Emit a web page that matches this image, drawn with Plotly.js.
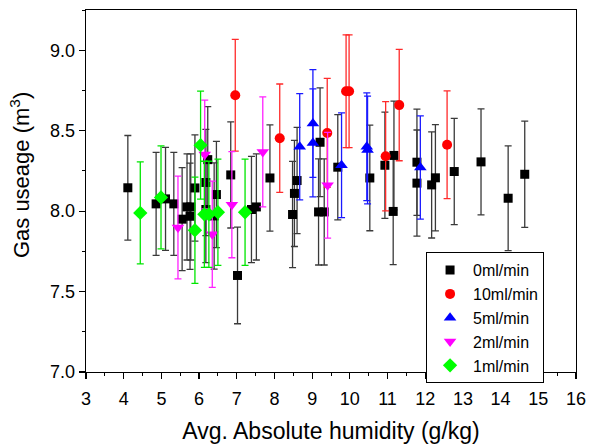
<!DOCTYPE html>
<html>
<head>
<meta charset="utf-8">
<script src="https://cdn.plot.ly/plotly-3.0.1.min.js"></script>
<style>html,body{margin:0;padding:0;background:#fff;}#chart{width:595px;height:444px;}</style>
</head>
<body>
<div id="chart"></div>
<script>
// 0 ml/min
var x0 = [4.11, 4.86, 5.11, 5.33, 5.55, 5.68, 5.76, 5.78, 5.89, 6.18, 6.23, 6.18, 6.40, 6.46, 6.84, 7.02, 7.39, 7.52, 7.88, 8.48, 8.53, 8.60, 9.17, 9.21, 9.32, 9.68, 10.53, 10.93, 11.15, 11.17, 11.78, 11.78, 12.17, 12.27, 12.77, 13.48, 14.20, 14.64];
var y0 = [8.145, 8.045, 8.076, 8.045, 7.95, 8.026, 7.968, 8.026, 8.144, 8.178, 8.32, 8.01, 7.97, 8.103, 8.225, 7.60, 8.01, 8.026, 8.206, 7.979, 8.11, 8.19, 7.995, 8.428, 7.995, 8.273, 8.206, 8.285, 7.998, 8.346, 8.304, 8.174, 8.163, 8.207, 8.246, 8.306, 8.080, 8.229];
var e0 = [0.325, 0.32, 0.32, 0.32, 0.32, 0.33, 0.33, 0.33, 0.33, 0.33, 0.33, 0.33, 0.33, 0.33, 0.33, 0.30, 0.33, 0.33, 0.33, 0.33, 0.33, 0.33, 0.33, 0.338, 0.33, 0.327, 0.328, 0.33, 0.33, 0.338, 0.33, 0.33, 0.33, 0.33, 0.33, 0.33, 0.325, 0.33];
// 10 ml/min
var x10 = [6.96, 8.14, 9.40, 9.90, 9.98, 10.95, 11.31, 12.58];
var y10 = [8.72, 8.453, 8.486, 8.745, 8.745, 8.341, 8.659, 8.412];
var e10 = [0.347, 0.337, 0.339, 0.35, 0.35, 0.339, 0.346, 0.335];
// 5 ml/min
var x5 = [8.67, 9.02, 9.02, 9.78, 10.45, 10.47, 11.87];
var y5 = [8.40, 8.545, 8.424, 8.285, 8.40, 8.38, 8.271];
var e5 = [0.33, 0.335, 0.336, 0.325, 0.335, 0.335, 0.321];
// 2 ml/min
var x2 = [5.44, 6.15, 6.35, 6.87, 7.69, 9.41];
var y2 = [7.898, 8.352, 7.856, 8.04, 8.368, 8.161];
var e2 = [0.319, 0.338, 0.33, 0.33, 0.342, 0.329];
// 1 ml/min
var x1 = [4.44, 4.99, 5.89, 6.04, 6.14, 6.26, 6.50, 7.22];
var y1 = [7.989, 8.085, 7.881, 8.41, 7.98, 7.98, 7.993, 7.993];
var e1 = [0.317, 0.32, 0.33, 0.336, 0.33, 0.33, 0.33, 0.33];

var names = ['0ml/min', '10ml/min', '5ml/min', '2ml/min', '1ml/min'];
var xTicks = [3, 4, 5, 6, 7, 8, 9, 10, 11, 12, 13, 14, 15, 16];
var yTicks = [7.0, 7.5, 8.0, 8.5, 9.0];

function tr(x, y, e, name, color, barColor, symbol, size) {
  return {
    type: 'scatter', mode: 'markers', x: x, y: y, name: name,
    marker: {color: color, symbol: symbol, size: size, line: {width: 0}},
    error_y: {type: 'data', array: e, visible: true, color: barColor, thickness: 1.3, width: 3.5}
  };
}

var data = [
  tr(x0, y0, e0, names[0], '#000000', '#3a3a3a', 'square', 9),
  tr(x10, y10, e10, names[1], '#ff0000', '#ff2a2a', 'circle', 10),
  tr(x5, y5, e5, names[2], '#0000ff', '#1a1aff', 'triangle-up', 11),
  tr(x2, y2, e2, names[3], '#ff00ff', '#ff22ff', 'triangle-down', 11),
  tr(x1, y1, e1, names[4], '#00ff00', '#00e600', 'diamond', 11)
];

var F = 'Arial, "Liberation Sans", sans-serif';
var layout = {
  width: 595, height: 444,
  margin: {l: 86, r: 19, t: 10, b: 72},
  paper_bgcolor: '#fff', plot_bgcolor: '#fff',
  font: {family: F, color: '#000'},
  showlegend: true,
  xaxis: {
    range: [3, 16], tickvals: xTicks, ticktext: xTicks.map(String),
    showgrid: false, zeroline: false,
    showline: true, linecolor: '#000', linewidth: 1.3, mirror: true,
    ticks: 'outside', ticklen: 6, tickwidth: 1.2, tickcolor: '#000',
    ticklabelstandoff: 4,
    tickfont: {size: 18, family: F},
    minor: {dtick: 0.5, ticks: 'outside', ticklen: 3, tickwidth: 1, tickcolor: '#000', showgrid: false},
    title: {text: 'Avg. Absolute humidity (g/kg)', font: {size: 23, family: F}, standoff: 16}
  },
  yaxis: {
    range: [7.0, 9.25], tickvals: yTicks, ticktext: yTicks.map(function(v){return v.toFixed(1);}),
    showgrid: false, zeroline: false,
    showline: true, linecolor: '#000', linewidth: 1.3, mirror: true,
    ticks: 'outside', ticklen: 6, tickwidth: 1.2, tickcolor: '#000',
    tickfont: {size: 18, family: F},
    minor: {dtick: 0.25, ticks: 'outside', ticklen: 3, tickwidth: 1, tickcolor: '#000', showgrid: false}
  },
  annotations: [{
    xref: 'paper', yref: 'paper', x: -66/490, y: 0.544,
    xanchor: 'center', yanchor: 'middle', textangle: -90, showarrow: false,
    text: 'Gas useage (m<sup>3</sup>)', font: {size: 22, family: F, color: '#000'}
  }],
  legend: {
    x: 0.694, y: 0.331, xanchor: 'left', yanchor: 'top',
    bordercolor: '#000', borderwidth: 1, bgcolor: '#fff',
    font: {size: 16, family: F}, tracegroupgap: 0, itemwidth: 36
  }
};

Plotly.newPlot('chart', data, layout, {displayModeBar: false, staticPlot: true});
</script>
</body>
</html>
